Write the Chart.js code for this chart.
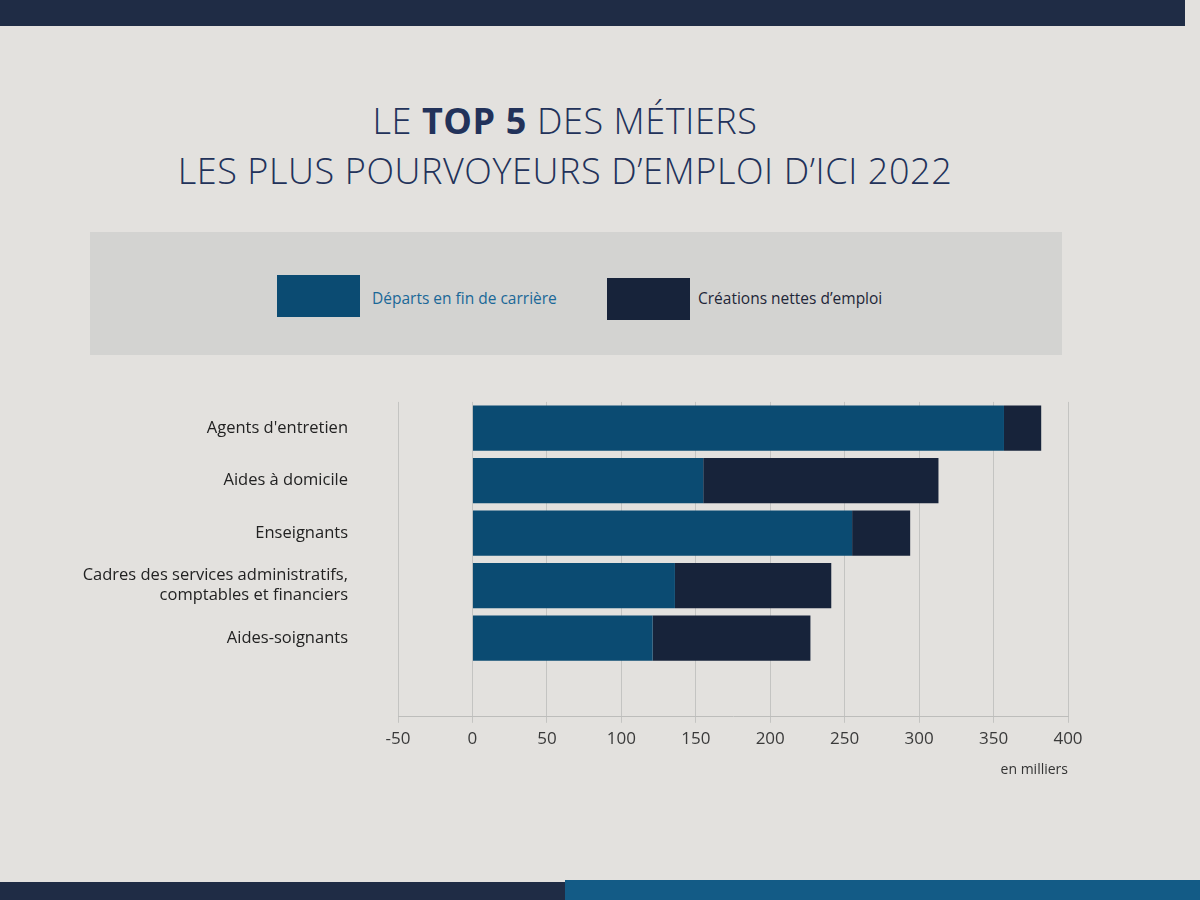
<!DOCTYPE html>
<html lang="fr">
<head>
<meta charset="utf-8">
<script src="https://cdn.jsdelivr.net/npm/chart.js@4.4.1/dist/chart.umd.min.js"></script>
<style>
  html, body { margin: 0; padding: 0; }
  body { width: 1200px; height: 900px; position: relative; overflow: hidden;
         background: #e3e1de; font-family: "Open Sans", sans-serif; }
  .band-top { position: absolute; left: 0; top: 0; width: 1185px; height: 26px; background: #1f2c45; }
  .band-bot1 { position: absolute; left: 0; top: 882px; width: 565px; height: 18px; background: #1f2c45; }
  .band-bot2 { position: absolute; left: 565px; top: 880px; width: 635px; height: 20px; background: #135b86; }
  .title { position: absolute; left: 0; width: 1130px; text-align: center; color: #22325a;
           font-size: 36px; font-weight: 300; letter-spacing: 0.6px; }
  .t1 { top: 96px; }
  .t2 { top: 146px; }
  .title b { font-weight: 700; }
  .legend { position: absolute; left: 90px; top: 232px; width: 972px; height: 123px; background: #d3d3d1; }
  .sw { position: absolute; width: 83px; height: 42px; }
  .lt { position: absolute; font-size: 15.5px; }
  #wrap { position: absolute; left: 0; top: 392px; width: 1200px; height: 410px; }
</style>
</head>
<body>
<div class="band-top"></div>
<div class="band-bot1"></div>
<div class="band-bot2"></div>
<div class="title t1">LE <b>TOP 5</b> DES MÉTIERS</div>
<div class="title t2">LES PLUS POURVOYEURS D’EMPLOI D’ICI 2022</div>
<div class="legend">
  <div class="sw" style="left:187px; top:43px; background:#0b4b72;"></div>
  <div class="lt" style="left:282px; top:55px; color:#1a6898;">Départs en fin de carrière</div>
  <div class="sw" style="left:517px; top:46px; background:#17233a;"></div>
  <div class="lt" style="left:608px; top:55px; color:#1e2638;">Créations nettes d’emploi</div>
</div>
<div id="wrap"><canvas id="c"></canvas></div>
<script>
const categories = [
  "Agents d'entretien",
  "Aides à domicile",
  "Enseignants",
  ["Cadres des services administratifs,", "comptables et financiers"],
  "Aides-soignants"
];
const departs = [357, 155, 255, 136, 121];
const creations = [25, 158, 39, 105, 106];
const xTicks = [-50, 0, 50, 100, 150, 200, 250, 300, 350, 400];
const seriesNames = ["Départs en fin de carrière", "Créations nettes d’emploi"];

const ctx = document.getElementById('c');
new Chart(ctx, {
  type: 'bar',
  data: {
    labels: [...categories, ''],
    datasets: [
      { label: seriesNames[0], data: departs, backgroundColor: '#0b4b72',
        barPercentage: 0.86, categoryPercentage: 1.0 },
      { label: seriesNames[1], data: creations, backgroundColor: '#17233a',
        barPercentage: 0.86, categoryPercentage: 1.0 }
    ]
  },
  options: {
    indexAxis: 'y',
    responsive: true,
    maintainAspectRatio: false,
    animation: false,
    layout: { padding: { top: 0, right: 132, bottom: 20, left: 0 } },
    plugins: { legend: { display: false }, tooltip: { enabled: false } },
    scales: {
      x: {
        stacked: true,
        min: -50, max: 400,
        afterBuildTicks: (scale) => { scale.ticks = xTicks.map(v => ({ value: v })); },
        grid: { color: '#c4c4c2', lineWidth: 1, drawTicks: true, tickLength: 6 },
        border: { color: '#bdbdbb' },
        ticks: { color: '#3a3a3a', font: { family: 'Open Sans', size: 17 }, padding: 6 },
        title: { display: true, text: 'en milliers', align: 'end', color: '#333',
                 font: { family: 'Open Sans', size: 14 }, padding: { top: 6 } }
      },
      y: {
        stacked: true,
        grid: { display: true, drawOnChartArea: false, drawTicks: true, tickLength: 50, tickColor: 'rgba(0,0,0,0)' },
        border: { display: false },
        ticks: { color: '#222', font: { family: 'Open Sans', size: 16.5, weight: '500' }, padding: 0 },
        afterFit: (scale) => { scale.width = 398; }
      }
    }
  }
});
</script>
</body>
</html>
